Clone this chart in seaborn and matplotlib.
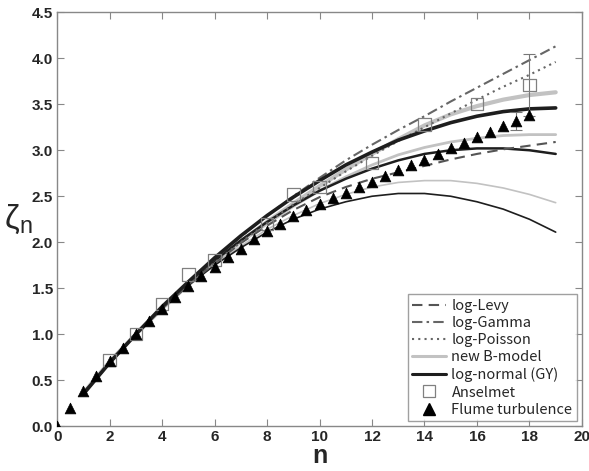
import matplotlib
matplotlib.use("Agg")
import matplotlib.pyplot as plt
import seaborn as sns
from matplotlib.lines import Line2D

sns.set_style("ticks")
plt.rcParams['font.family'] = ['Liberation Sans', 'DejaVu Sans']
plt.rcParams['mathtext.fontset'] = 'dejavusans'
plt.rcParams['mathtext.default'] = 'regular'

# model curves, sampled at n = 1..19
n_model = list(range(1, 20))
log_levy = [0.36, 0.70, 1.00, 1.28, 1.54, 1.77, 1.99, 2.18, 2.35, 2.49, 2.60, 2.69,
            2.76, 2.83, 2.90, 2.96, 3.01, 3.05, 3.09]
log_gamma = [0.36, 0.70, 1.00, 1.29, 1.56, 1.82, 2.06, 2.29, 2.50, 2.70, 2.89, 3.06,
             3.22, 3.37, 3.53, 3.68, 3.83, 3.98, 4.13]
log_poisson = [0.36, 0.70, 1.00, 1.28, 1.54, 1.78, 2.00, 2.21, 2.41, 2.59, 2.77, 2.94,
               3.10, 3.25, 3.40, 3.55, 3.69, 3.82, 3.96]
bmodel_a = [0.36, 0.70, 1.00, 1.28, 1.54, 1.78, 2.01, 2.22, 2.42, 2.61, 2.79, 2.96,
            3.12, 3.27, 3.39, 3.48, 3.55, 3.60, 3.63]
bmodel_b = [0.36, 0.70, 1.00, 1.28, 1.54, 1.78, 2.00, 2.20, 2.39, 2.56, 2.71, 2.84,
            2.95, 3.03, 3.09, 3.13, 3.16, 3.17, 3.17]
bmodel_c = [0.36, 0.70, 1.00, 1.28, 1.53, 1.76, 1.96, 2.14, 2.29, 2.42, 2.52, 2.60,
            2.65, 2.67, 2.67, 2.64, 2.59, 2.52, 2.43]
lognorm_a = [0.35, 0.69, 1.00, 1.30, 1.57, 1.83, 2.07, 2.29, 2.49, 2.67, 2.84, 2.98,
             3.11, 3.21, 3.30, 3.37, 3.42, 3.45, 3.46]
lognorm_b = [0.36, 0.69, 1.00, 1.29, 1.56, 1.80, 2.02, 2.22, 2.40, 2.56, 2.69, 2.80,
             2.89, 2.96, 3.00, 3.02, 3.02, 3.00, 2.96]
lognorm_c = [0.36, 0.69, 1.00, 1.28, 1.53, 1.75, 1.94, 2.11, 2.25, 2.36, 2.44, 2.50,
             2.53, 2.53, 2.50, 2.44, 2.36, 2.25, 2.11]

# Anselmet et al. data
n_anselmet = [2, 3, 4, 5, 6, 8, 9, 10, 12, 14, 16, 18]
z_anselmet = [0.72, 1.00, 1.33, 1.65, 1.81, 2.20, 2.52, 2.60, 2.86, 3.28, 3.50, 3.71]

# flume turbulence data
n_flume = [0, 0.5, 1, 1.5, 2, 2.5, 3, 3.5, 4, 4.5, 5, 5.5, 6, 6.5, 7, 7.5, 8, 8.5, 9,
           9.5, 10, 10.5, 11, 11.5, 12, 12.5, 13, 13.5, 14, 14.5, 15, 15.5, 16, 16.5,
           17, 17.5, 18]
z_flume = [0.00, 0.20, 0.38, 0.55, 0.71, 0.855, 1.00, 1.14, 1.27, 1.40, 1.52, 1.63,
           1.73, 1.84, 1.93, 2.03, 2.12, 2.20, 2.28, 2.35, 2.42, 2.48, 2.54, 2.60,
           2.66, 2.72, 2.78, 2.84, 2.89, 2.96, 3.02, 3.08, 3.14, 3.20, 3.26, 3.32, 3.38]

# error bars
err_n = [18, 17.5]
err_z = [3.71, 3.32]
err_size = [0.34, 0.10]

fig, ax = plt.subplots(figsize=(5.89, 4.71), dpi=100)
fig.subplots_adjust(left=0.097, right=0.988, top=0.974, bottom=0.095)

light = '#c2c2c2'
dark = '#1e1e1e'
curves = [
    (bmodel_c, light, 1.2, '-'),
    (bmodel_b, light, 2.0, '-'),
    (bmodel_a, light, 3.0, '-'),
    (lognorm_c, dark, 1.2, '-'),
    (lognorm_b, dark, 1.8, '-'),
    (log_levy, '#555555', 1.5, (0, (5, 3))),
    (log_poisson, '#666666', 1.5, (0, (1, 2))),
    (log_gamma, '#666666', 1.5, (0, (5, 2, 1.2, 2))),
    (lognorm_a, dark, 2.6, '-'),
]
for vals, col, lw, ls in curves:
    sns.lineplot(x=n_model, y=vals, ax=ax, color=col, linewidth=lw, linestyle=ls)

ax.errorbar(err_n, err_z, yerr=err_size, fmt='none', ecolor='#777777',
            elinewidth=0.8, capsize=4, capthick=0.8, zorder=3)

sns.scatterplot(x=n_anselmet, y=z_anselmet, ax=ax, marker='s', s=80,
                facecolor='none', edgecolor='#808080', linewidth=0.9, zorder=4)
sns.scatterplot(x=n_flume, y=z_flume, ax=ax, marker='^', s=60,
                color='black', edgecolor='black', linewidth=0.5, zorder=5)

ax.set_xlim(0, 20)
ax.set_ylim(0, 4.5)
ax.set_xticks(range(0, 21, 2))
ax.set_yticks([i * 0.5 for i in range(10)])
ax.set_yticklabels([f"{i * 0.5:.1f}" for i in range(10)])
ax.tick_params(direction='in', top=True, right=True, length=5, width=0.8,
               color='#888888', labelsize=11, pad=3)
for lab in ax.get_xticklabels() + ax.get_yticklabels():
    lab.set_fontweight('bold')
for sp in ax.spines.values():
    sp.set_color('#888888')
    sp.set_linewidth(1.0)

ax.set_xlabel('n', fontsize=18, fontweight='bold', labelpad=0)
ax.set_ylabel(r'$\zeta_n$', fontsize=24, rotation=0, va='center', ha='center')
ax.yaxis.set_label_coords(-0.075, 0.5)

handles = [
    Line2D([], [], color='#555555', lw=1.5, ls=(0, (5, 3))),
    Line2D([], [], color='#666666', lw=1.5, ls=(0, (5, 2, 1.2, 2))),
    Line2D([], [], color='#666666', lw=1.5, ls=(0, (1, 2))),
    Line2D([], [], color=light, lw=2.2),
    Line2D([], [], color=dark, lw=2.2),
    Line2D([], [], marker='s', ls='none', markersize=8, markerfacecolor='none',
           markeredgecolor='#808080', markeredgewidth=0.9),
    Line2D([], [], marker='^', ls='none', markersize=8, color='black'),
]
labels = ['log-Levy', 'log-Gamma', 'log-Poisson', 'new B-model', 'log-normal (GY)',
          'Anselmet', 'Flume turbulence']
leg = ax.legend(handles, labels, loc='lower right', frameon=True,
                fancybox=False, edgecolor='#888888', handlelength=2.3,
                handletextpad=0.4, labelspacing=0.22, borderpad=0.3,
                borderaxespad=0.35, prop={'family': ['Noto Sans CJK JP', 'DejaVu Sans'],
                                          'size': 10.5})
leg.get_frame().set_linewidth(1.0)

fig.savefig('out.png', dpi=100)
